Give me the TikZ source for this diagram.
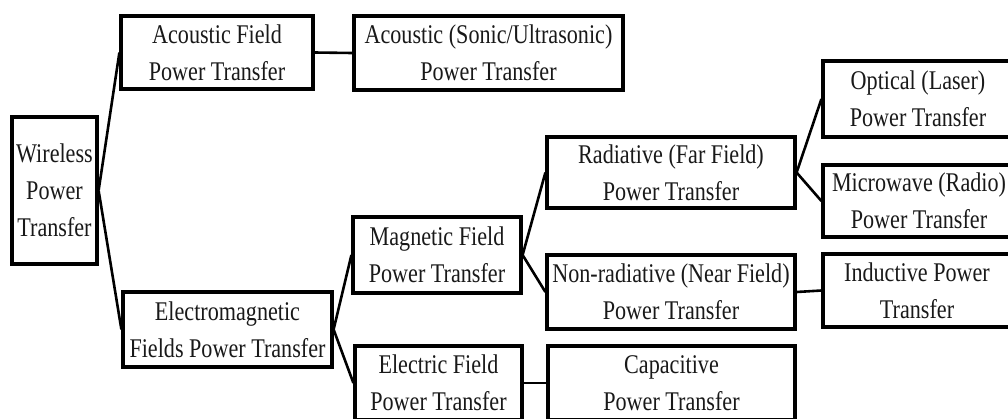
\documentclass[tikz,border=0pt]{standalone}
\usepackage{fontspec}
\setmainfont{Liberation Serif}[FakeStretch=0.82]
\begin{document}
\begin{tikzpicture}[x=1pt,y=-1pt,
  box/.style={draw=black, line width=3.2pt, inner sep=0pt, align=center,
    font=\fontsize{27}{37}\selectfont, text=black!90},
  link/.style={draw=black, line width=2.6pt}]
\useasboundingbox (0,0) rectangle (1008,418);
\fill[white] (0,0) rectangle (1008,418);
\node[box, minimum width=85pt, minimum height=147pt] (wpt) at (54.5,190.5) {Wireless\\Power\\Transfer};
\node[box, minimum width=192pt, minimum height=73pt] (af) at (217,52.5) {Acoustic Field\\Power Transfer};
\node[box, minimum width=269pt, minimum height=74pt] (as) at (488.5,53) {Acoustic (Sonic/Ultrasonic)\\Power Transfer};
\node[box, minimum width=209pt, minimum height=75pt] (em) at (227.5,329.5) {Electromagnetic\\Fields Power Transfer};
\node[box, minimum width=168pt, minimum height=76pt] (mf) at (437,255) {Magnetic Field\\Power Transfer};
\node[box, minimum width=167pt, minimum height=74pt] (ef) at (438.5,383) {Electric Field\\Power Transfer};
\node[box, minimum width=248pt, minimum height=71pt] (rad) at (671,172.5) {Radiative (Far Field)\\Power Transfer};
\node[box, minimum width=248pt, minimum height=74pt] (nrad) at (671,292) {Non-radiative (Near Field)\\Power Transfer};
\node[box, minimum width=247pt, minimum height=74pt] (cap) at (671.5,383) {Capacitive\\Power Transfer};
\node[box, minimum width=190pt, minimum height=76pt] (opt) at (918,99) {Optical (Laser)\\Power Transfer};
\node[box, minimum width=192pt, minimum height=72pt] (mw) at (919,201) {Microwave (Radio)\\Power Transfer};
\node[box, minimum width=188pt, minimum height=73pt] (ind) at (917,290.5) {Inductive Power\\Transfer};
\draw[link] (wpt.east) -- (af.west);
\draw[link] (wpt.east) -- (em.west);
\draw[link] (af.east) -- (as.west);
\draw[link] (em.east) -- (mf.west);
\draw[link] (em.east) -- (ef.west);
\draw[link] (mf.east) -- (rad.west);
\draw[link] (mf.east) -- (nrad.west);
\draw[link] (ef.east) -- (cap.west);
\draw[link] (rad.east) -- (opt.west);
\draw[link] (rad.east) -- (mw.west);
\draw[link] (nrad.east) -- (ind.west);
\end{tikzpicture}
\end{document}
